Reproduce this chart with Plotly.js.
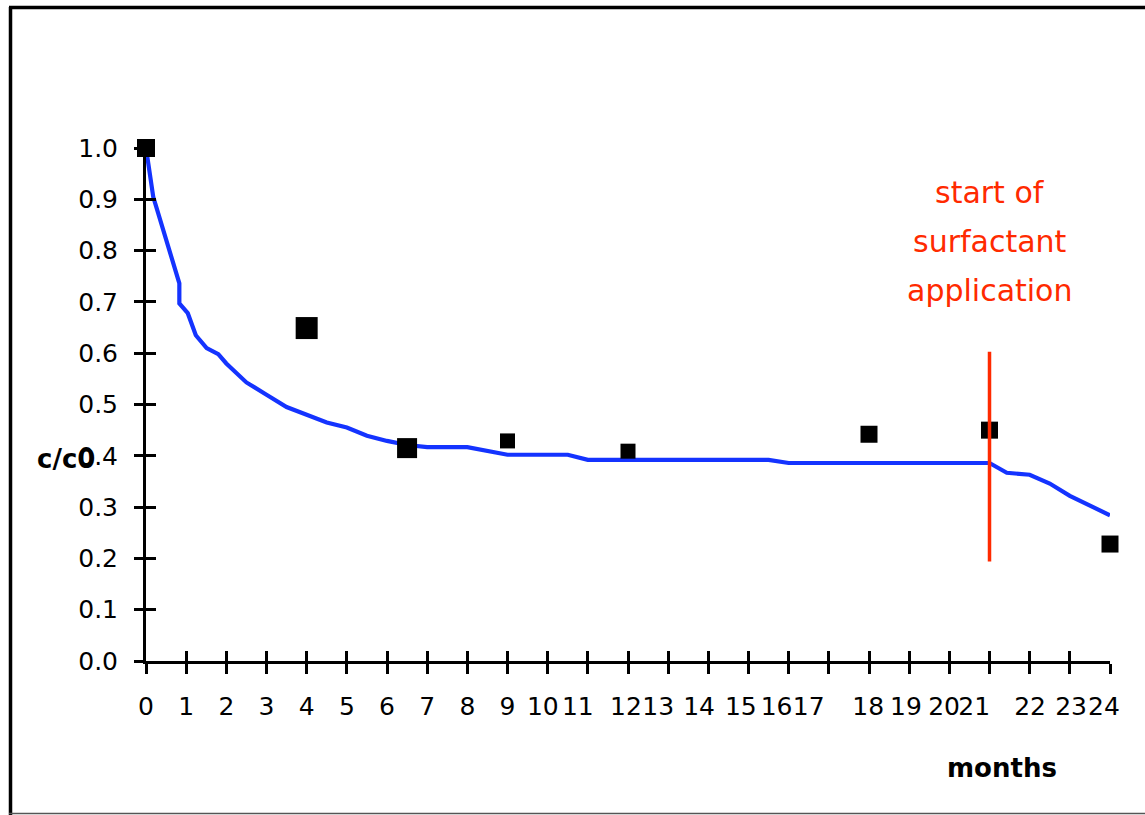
<!DOCTYPE html>
<html>
<head>
<meta charset="utf-8">
<script src="https://cdn.plot.ly/plotly-3.0.1.min.js"></script>
<style>
  html, body { margin: 0; padding: 0; background: #ffffff; }
  #chart { width: 1145px; height: 815px; }
</style>
</head>
<body>
<div id="chart"></div>
<script>
// ---- data ----
const modelMonths = [0, 0.18, 0.83, 0.83, 1.04, 1.24, 1.51, 1.8, 2.0, 2.5, 3.0, 3.5, 4.0, 4.5, 5.0, 5.5, 6.0, 6.5, 7.0, 8.0, 9.0, 10.5, 11.0, 15.5, 16.0, 21.0, 21.43, 22.0, 22.5, 23.0, 24.0];
const modelValues = [1.0, 0.905, 0.736, 0.697, 0.678, 0.635, 0.61, 0.598, 0.58, 0.543, 0.519, 0.495, 0.48, 0.465, 0.455, 0.439, 0.429, 0.421, 0.417, 0.417, 0.402, 0.402, 0.392, 0.392, 0.386, 0.386, 0.367, 0.363, 0.346, 0.322, 0.284];

const measuredMonths = [0, 4, 6.5, 9, 12, 18, 21, 24];
const measuredValues = [1.0, 0.649, 0.415, 0.429, 0.409, 0.442, 0.450, 0.228];

const surfactantStartMonth = 21;
const surfactantMarkerRange = [0.194, 0.603];
const surfactantLabel = ["start of", "surfactant", "application"];

const xTickMonths = [0,1,2,3,4,5,6,7,8,9,10,11,12,13,14,15,16,17,18,19,20,21,22,23,24];
const xTickLabels = ["0","1","2","3","4","5","6","7","8","9","10","11","12","13","14","15","16","17","18","19","20","21","22","23","24"];
const yTickValues = [0,0.1,0.2,0.3,0.4,0.5,0.6,0.7,0.8,0.9,1.0];

// layout: where the original drew each x tick label (in months)
const xLabelPos = [0,1,2,3,4,5,6,7,8,9,9.88,10.75,11.95,12.75,13.77,14.81,15.7,16.5,17.98,18.92,19.87,20.62,22.01,23.03,23.85];

const FONT = "DejaVu Sans, Liberation Sans, Arial, sans-serif";

const traces = [
  {
    x: modelMonths, y: modelValues, type: "scatter", mode: "lines",
    line: { color: "#1433ff", width: 4.2 },
    hoverinfo: "skip", showlegend: false
  },
  {
    x: [surfactantStartMonth, surfactantStartMonth], y: surfactantMarkerRange,
    type: "scatter", mode: "lines", xaxis: "x2", yaxis: "y",
    line: { color: "#ff2a00", width: 3.5 },
    hoverinfo: "skip", showlegend: false
  },
  {
    x: measuredMonths, y: measuredValues, type: "scatter", mode: "markers",
    opacity: 1,
    marker: { symbol: "square", color: "#000000", opacity: 1,
              size: [18, 22, 20, 15, 15, 17, 17, 17],
              line: { color: "#000000", width: 0 } },
    cliponaxis: false, showlegend: false
  },
  {
    x: [], y: [], type: "scatter", xaxis: "x3", yaxis: "y2", showlegend: false
  }
];

const annotations = surfactantLabel.map((t, i) => ({
  text: t, x: surfactantStartMonth, xref: "x", y: [0.914, 0.817, 0.723][i], yref: "y",
  showarrow: false, xanchor: "center", yanchor: "middle",
  font: { family: FONT, size: 30, color: "#ff2a00" }
}));
annotations.push({
  text: "<b>c/c0</b>", xref: "paper", yref: "paper",
  x: (66 - 146) / 964, y: (661 - 459) / 513, xanchor: "center", yanchor: "middle",
  showarrow: false, font: { family: FONT, size: 26, color: "#000000" }
});
annotations.push({
  text: "<b>months</b>", xref: "paper", yref: "paper",
  x: (1002 - 146) / 964, y: (661 - 768) / 513, xanchor: "center", yanchor: "middle",
  showarrow: false, font: { family: FONT, size: 26, color: "#000000" }
});

const axisCommon = {
  showgrid: false, zeroline: false, fixedrange: true
};

const layout = {
  width: 1145, height: 815,
  margin: { l: 146, r: 35, t: 148, b: 154, pad: 0 },
  paper_bgcolor: "#ffffff", plot_bgcolor: "#ffffff",
  showlegend: false,
  font: { family: FONT, size: 25, color: "#000000" },
  xaxis: Object.assign({}, axisCommon, {
    range: [0, 24], tickmode: "array", tickvals: xTickMonths,
    ticks: "outside", ticklen: 10, tickwidth: 3, tickcolor: "#000000",
    showticklabels: false, showline: true, linewidth: 3, linecolor: "#000000"
  }),
  xaxis2: Object.assign({}, axisCommon, {
    overlaying: "x", anchor: "y", side: "bottom",
    range: [0, 24], tickmode: "array", tickvals: xTickMonths,
    ticks: "inside", ticklen: 10, tickwidth: 3, tickcolor: "#000000",
    showticklabels: false, showline: false
  }),
  xaxis3: Object.assign({}, axisCommon, {
    overlaying: "x", anchor: "y", side: "bottom",
    range: [0, 24], tickmode: "array", tickvals: xLabelPos, ticktext: xTickLabels,
    ticks: "", showline: false, ticklabelstandoff: 28, tickangle: 0,
    tickfont: { family: FONT, size: 25, color: "#000000" }
  }),
  yaxis: Object.assign({}, axisCommon, {
    range: [0, 1], tickmode: "array", tickvals: yTickValues, tickformat: ".1f",
    ticks: "outside", ticklen: 9, tickwidth: 3, tickcolor: "#000000",
    showline: true, linewidth: 3, linecolor: "#000000",
    ticklabelstandoff: 11,
    tickfont: { family: FONT, size: 25, color: "#000000" }
  }),
  yaxis2: Object.assign({}, axisCommon, {
    overlaying: "y", anchor: "x", side: "left",
    range: [0, 1], tickmode: "array", tickvals: yTickValues,
    ticks: "inside", ticklen: 10, tickwidth: 3, tickcolor: "#000000",
    showticklabels: false, showline: false
  }),
  annotations: annotations,
  shapes: [
    { type: "line", xref: "paper", yref: "paper",
      x0: (10.5 - 146) / 964, x1: (10.5 - 146) / 964, y0: (661 - 7) / 513, y1: (661 - 815) / 513,
      line: { color: "#000000", width: 3.5 } },
    { type: "line", xref: "paper", yref: "paper",
      x0: (9 - 146) / 964, x1: (1150 - 146) / 964, y0: (661 - 7.5) / 513, y1: (661 - 7.5) / 513,
      line: { color: "#000000", width: 3.5 } },
    { type: "line", xref: "paper", yref: "paper",
      x0: (9 - 146) / 964, x1: (1150 - 146) / 964, y0: (661 - 813.5) / 513, y1: (661 - 813.5) / 513,
      line: { color: "#555555", width: 1.5 } }
  ]
};

Plotly.newPlot("chart", traces, layout, { displayModeBar: false, staticPlot: true });
</script>
</body>
</html>
